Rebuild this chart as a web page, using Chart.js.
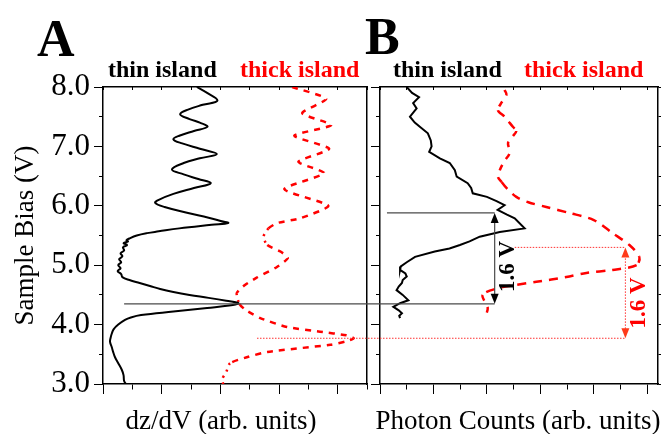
<!DOCTYPE html>
<html>
<head>
<meta charset="utf-8">
<script src="https://cdn.jsdelivr.net/npm/chart.js@4.4.1/dist/chart.umd.min.js"></script>
<style>
  html, body { margin: 0; padding: 0; background: #fff; }
  #wrap { position: relative; width: 668px; height: 434px; }
  #wrap canvas { position: absolute; left: 0; top: 0; }
</style>
</head>
<body>
<div id="wrap">
  <canvas id="chartA" width="668" height="434"></canvas>
  <canvas id="chartB" width="668" height="434"></canvas>
</div>
<script>
// Panel A: dz/dV spectra (sample bias in V, signal in arb. units)
const thinBiasA = [8.00, 7.90, 7.77, 7.70, 7.62, 7.54, 7.46, 7.40, 7.33, 7.26,
  7.18, 7.12, 7.05, 6.96, 6.87, 6.80, 6.72, 6.61, 6.53, 6.45,
  6.38, 6.30, 6.20, 6.10, 6.05, 5.98, 5.88, 5.80, 5.74, 5.71,
  5.68, 5.62, 5.57, 5.54, 5.50, 5.45, 5.42, 5.40, 5.37, 5.34,
  5.30, 5.25, 5.20, 5.15, 5.10, 5.05, 5.00, 4.95, 4.90, 4.85,
  4.80, 4.75, 4.70, 4.65, 4.60, 4.55, 4.50, 4.45, 4.40, 4.36,
  4.32, 4.28, 4.22, 4.16, 4.12, 4.08, 4.00, 3.92, 3.85, 3.78,
  3.71, 3.62, 3.55, 3.45, 3.35, 3.24, 3.15, 3.05, 3.00];
const thinDzdv = [3.20, 3.55, 3.90, 3.40, 2.90, 2.63, 2.95, 3.30, 3.56, 3.10,
  2.60, 2.40, 2.70, 3.30, 3.88, 3.30, 2.75, 2.35, 2.75, 3.25,
  3.67, 3.10, 2.40, 1.90, 1.78, 2.10, 2.90, 3.60, 4.05, 4.27,
  3.70, 2.60, 1.90, 1.50, 1.15, 0.90, 0.80, 0.85, 0.70, 0.82,
  0.68, 0.72, 0.60, 0.66, 0.55, 0.62, 0.52, 0.60, 0.50, 0.62,
  0.66, 0.90, 1.25, 1.60, 1.95, 2.40, 2.95, 3.60, 4.20, 4.62,
  4.30, 3.55, 2.40, 1.30, 0.95, 0.75, 0.52, 0.36, 0.30, 0.26,
  0.24, 0.30, 0.34, 0.41, 0.52, 0.64, 0.70, 0.72, 0.78];

const thickBiasA = [8.00, 7.80, 7.56, 7.36, 7.18, 6.96, 6.74, 6.55, 6.28, 6.00,
  5.79, 5.71, 5.62, 5.48, 5.34, 5.23, 5.12, 4.97, 4.79, 4.67,
  4.53, 4.35, 4.25, 4.11, 3.96, 3.88, 3.82, 3.77, 3.72, 3.66,
  3.54, 3.45, 3.35, 3.20, 3.08, 3.00];
const thickDzdv = [6.45, 7.61, 6.79, 7.78, 6.52, 7.71, 6.66, 7.54, 6.18, 7.68,
  6.72, 5.94, 5.64, 5.47, 5.60, 6.05, 6.30, 5.93, 5.24, 4.85,
  4.56, 4.65, 4.85, 5.36, 6.27, 7.40, 8.30, 8.55, 8.30, 7.75,
  5.60, 4.90, 4.33, 4.20, 4.06, 4.10];

// Panel B: photon counts (arb. units)
const thinBiasB = [8.00, 7.90, 7.83, 7.73, 7.64, 7.50, 7.40, 7.33, 7.22, 7.10,
  7.00, 6.91, 6.80, 6.72, 6.60, 6.49, 6.38, 6.30, 6.21, 6.15,
  6.08, 6.01, 5.93, 5.85, 5.79, 5.62, 5.56, 5.48, 5.40, 5.34,
  5.28, 5.23, 5.14, 5.05, 4.98, 4.92, 4.86, 4.81, 4.75, 4.70,
  4.64, 4.58, 4.50, 4.41, 4.36, 4.30, 4.24, 4.19, 4.15, 4.11];
const thinPhoton = [1.00, 1.20, 1.46, 1.24, 1.37, 1.12, 1.30, 1.49, 1.79, 1.90,
  1.93, 1.84, 2.24, 2.61, 2.80, 2.87, 3.28, 3.41, 3.47, 4.00,
  4.36, 4.66, 4.40, 4.75, 5.04, 5.41, 4.48, 3.73, 3.35, 2.99,
  2.60, 2.05, 1.31, 1.00, 0.78, 0.75, 0.95, 1.00, 0.85, 0.82,
  0.70, 0.62, 0.85, 1.06, 0.75, 0.50, 0.70, 0.82, 0.72, 0.75];

const thickBiasB = [7.95, 7.87, 7.74, 7.61, 7.50, 7.33, 7.26, 7.16, 7.06, 6.89,
  6.75, 6.60, 6.49, 6.40, 6.30, 6.15, 6.06, 5.98, 5.88, 5.76,
  5.54, 5.34, 5.14, 5.00, 4.92, 4.87, 4.80, 4.72, 4.67, 4.62,
  4.50, 4.28, 4.11];
const thickPhoton = [4.66, 4.73, 4.55, 4.41, 4.66, 4.97, 5.10, 4.95, 4.79, 4.85,
  4.65, 4.48, 4.41, 4.55, 4.73, 5.10, 5.55, 6.22, 7.08, 8.00,
  8.70, 9.33, 9.70, 9.60, 8.70, 7.72, 6.97, 5.85, 5.10, 4.48,
  3.84, 4.03, 3.92];

// marker levels (V)
const dzdvPeaks = [4.35, 3.77];      // thin, thick
const photonEdges = [5.88, 5.30];    // thin, thick
const gapLabel = "1.6 V";

const SERIF = "'Liberation Serif', 'Times New Roman', serif";
const RED = "#ff0000";

const pts = (ys, xs) => ys.map((y, i) => ({ x: xs[i], y }));

// short dashes where the curve runs vertically, longer where it runs sideways
const dashBySlope = (steep, flat) => ctx =>
  Math.abs(ctx.p1.y - ctx.p0.y) > 1.3 * Math.abs(ctx.p1.x - ctx.p0.x) ? steep : flat;

const fixW = w => s => { s.width = w; };
const fixH = h => s => { s.height = h; };
const axisBorder = { display: true, color: "#000", width: 1.5 };

function scalesFor(xMax, yLeft) {
  return {
    x: {
      type: "linear", position: "bottom", min: 0, max: xMax,
      afterFit: fixH(50),
      ticks: { display: false, stepSize: 1, autoSkip: false, includeBounds: false },
      grid: {
        drawOnChartArea: false, color: "#000", tickLength: 10,
        tickBorderDash: c => (c.tick && c.tick.value % 2) ? [5, 100] : [],
      },
      border: axisBorder,
    },
    xTop: {
      type: "linear", position: "top", axis: "x", min: 0, max: xMax,
      afterFit: fixH(0),
      ticks: { display: false, stepSize: 1, autoSkip: false, includeBounds: false },
      grid: { drawOnChartArea: false, color: "#000", tickLength: -3 },
      border: axisBorder,
    },
    y: yLeft,
  };
}

const yTickMinor = c => (c.tick && c.tick.value % 1) ? [0, 5, 4, 100] : [];

// ---------- Panel A ----------
const chartA = new Chart(document.getElementById("chartA"), {
  type: "line",
  data: {
    datasets: [
      {
        data: pts(thinBiasA, thinDzdv),
        borderColor: "#000", borderWidth: 2, tension: 0.4,
      },
      {
        data: pts(thickBiasA, thickDzdv),
        borderColor: RED, borderWidth: 2.5, tension: 0.2,
        segment: { borderDash: dashBySlope([2, 5], [6, 6]) },
      },
    ],
  },
  options: {
    responsive: false, animation: false, events: [],
    layout: { padding: { left: 0, top: 87, right: 668 - 367, bottom: 0 } },
    elements: { point: { radius: 0 } },
    plugins: { legend: { display: false }, tooltip: { enabled: false } },
    scales: Object.assign(scalesFor(9, {
      type: "linear", position: "left", min: 3, max: 8,
      afterFit: fixW(103),
      ticks: {
        stepSize: 0.5, autoSkip: false, padding: 4, color: "#000",
        font: { family: SERIF, size: 31 },
        callback: v => (v % 1 === 0 ? v.toFixed(1) : ""),
      },
      grid: { drawOnChartArea: false, color: "#000", tickLength: 9, tickBorderDash: yTickMinor },
      border: axisBorder,
      title: {
        display: true, text: "Sample Bias (V)", color: "#000",
        font: { family: SERIF, size: 27 }, padding: { top: 10 },
      },
    }), {
      yRight: {
        type: "linear", position: "right", axis: "y", min: 3, max: 8,
        afterFit: fixW(0),
        ticks: { display: false },
        grid: { drawOnChartArea: false, drawTicks: false },
        border: axisBorder,
      },
    }),
  },
});

// ---------- overlay: labels and marker arrows across both panels ----------
function arrowHead(c, x, y, dir) { // dir -1 points up, 1 points down
  c.beginPath();
  c.moveTo(x, y);
  c.lineTo(x - 4, y - dir * 10);
  c.lineTo(x + 4, y - dir * 10);
  c.closePath();
  c.fill();
}

function hLine(c, x1, x2, y) {
  c.beginPath(); c.moveTo(x1, y); c.lineTo(x2, y); c.stroke();
}

function rotText(c, text, x, y, color) {
  c.save();
  c.translate(x, y);
  c.rotate(-Math.PI / 2);
  c.fillStyle = color;
  c.font = "bold 23px " + SERIF;
  c.textAlign = "center";
  c.textBaseline = "middle";
  c.fillText(text, 0, 0);
  c.restore();
}

const overlay = {
  id: "overlay",
  afterDraw(chart) {
    const c = chart.ctx;
    const y = chart.scales.y, xB = chart.scales.x, xA = chartA.scales.x;
    c.save();

    // thin island: dz/dV peak -> photon onset
    const arrowX = xB.getPixelForValue(4.29);
    const yPk = y.getPixelForValue(dzdvPeaks[0]);
    const yEd = y.getPixelForValue(photonEdges[0]);
    c.strokeStyle = "#4a4a4a"; c.lineWidth = 1.2;
    hLine(c, xA.getPixelForValue(0.72), arrowX, yPk);
    hLine(c, xB.getPixelForValue(0.26), arrowX, yEd);
    c.beginPath(); c.moveTo(arrowX, yEd + 8); c.lineTo(arrowX, yPk - 8); c.stroke();
    c.fillStyle = "#000";
    arrowHead(c, arrowX, yEd, -1);
    arrowHead(c, arrowX, yPk, 1);
    rotText(c, gapLabel, arrowX + 13, (yPk + yEd) / 2 + 8, "#000");

    // thick island
    const rX = xB.getPixelForValue(9.18);
    const rPk = y.getPixelForValue(dzdvPeaks[1]);
    const rEd = y.getPixelForValue(photonEdges[1]);
    c.strokeStyle = "#ff3030"; c.lineWidth = 1; c.setLineDash([1.5, 1.5]);
    hLine(c, xA.getPixelForValue(5.25), rX, rPk);
    hLine(c, xB.getPixelForValue(5.04), rX, rEd);
    c.beginPath(); c.moveTo(rX, rEd + 8); c.lineTo(rX, rPk - 8); c.stroke();
    c.setLineDash([]);
    c.fillStyle = "#ff3a1a";
    arrowHead(c, rX, rEd, -1);
    arrowHead(c, rX, rPk, 1);
    rotText(c, gapLabel, rX + 14, (rPk + rEd) / 2 + 10, RED);

    // panel letters and legends
    c.textBaseline = "alphabetic"; c.textAlign = "left";
    c.fillStyle = "#000";
    c.font = "bold 52px " + SERIF;
    c.fillText("A", 37, 56);
    c.fillText("B", 365, 54);
    c.font = "bold 24px " + SERIF;
    c.fillText("thin island", 108, 77);
    c.fillText("thin island", 393, 77);
    c.fillStyle = RED;
    c.fillText("thick island", 240, 77);
    c.fillText("thick island", 524, 77);

    // x axis titles
    c.fillStyle = "#000";
    c.font = "27px " + SERIF;
    c.textAlign = "center";
    c.fillText("dz/dV (arb. units)", 221, 429);
    c.fillText("Photon Counts (arb. units)", 518, 429);
    c.restore();
  },
};

// ---------- Panel B ----------
new Chart(document.getElementById("chartB"), {
  type: "line",
  data: {
    datasets: [
      {
        data: pts(thinBiasB, thinPhoton),
        borderColor: "#000", borderWidth: 2, tension: 0,
      },
      {
        data: pts(thickBiasB, thickPhoton),
        borderColor: RED, borderWidth: 2.5, tension: 0.3,
        segment: { borderDash: dashBySlope([6, 7], [9, 7]) },
      },
    ],
  },
  options: {
    responsive: false, animation: false, events: [],
    layout: { padding: { left: 380 - 12, top: 87, right: 668 - 658 - 3, bottom: 0 } },
    elements: { point: { radius: 0 } },
    plugins: { legend: { display: false }, tooltip: { enabled: false } },
    scales: Object.assign(scalesFor(10.4, {
      type: "linear", position: "left", min: 3, max: 8,
      afterFit: fixW(12),
      ticks: { display: false, stepSize: 0.5, autoSkip: false },
      grid: { drawOnChartArea: false, color: "#000", tickLength: 9, tickBorderDash: yTickMinor },
      border: axisBorder,
    }), {
      yRight: {
        type: "linear", position: "right", axis: "y", min: 3, max: 8,
        afterFit: fixW(3),
        ticks: { display: false, stepSize: 0.5, autoSkip: false },
        grid: { drawOnChartArea: false, color: "#000", tickLength: 3 },
        border: axisBorder,
      },
    }),
  },
  plugins: [overlay],
});
</script>
</body>
</html>
